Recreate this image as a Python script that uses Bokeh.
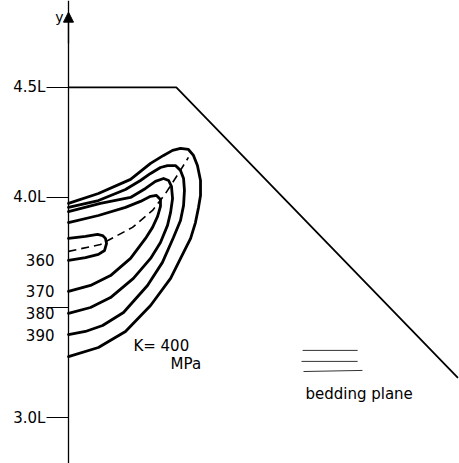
from bokeh.plotting import figure
from bokeh.models import (LinearAxis, FixedTicker, Range1d, ColumnDataSource,
                          LabelSet, Label, Arrow, NormalHead)
from bokeh.embed import file_html
from bokeh.resources import INLINE
from bokeh.core.properties import value

FONT = "DejaVu Sans"

# ---- data (lengths in units of L, stress levels in MPa) ----
y_ticks = [3.0, 3.5, 4.0, 4.5]
y_tick_labels = ["3.0L", "", "4.0L", "4.5L"]

# slope boundary (crest then face)
boundary_x = [0.0, 0.49, 1.77]
boundary_y = [4.5, 4.5, 3.18]

levels = ["360", "370", "380", "390"]
outer_level = "K= 400"
outer_unit = "MPa"

c360_x = [0.0, 0.077, 0.132, 0.155, 0.168, 0.173, 0.164, 0.136, 0.077, 0.0]
c360_y = [3.814, 3.823, 3.832, 3.827, 3.814, 3.791, 3.759, 3.741, 3.727, 3.714]

c370_x = [0.0, 0.136, 0.259, 0.327, 0.373, 0.400, 0.418, 0.418, 0.405, 0.382, 0.350,
          0.282, 0.191, 0.100, 0.0]
c370_y = [3.886, 3.918, 3.955, 3.982, 4.005, 4.009, 3.991, 3.959, 3.914, 3.864, 3.814,
          3.723, 3.645, 3.600, 3.573]

c380_x = [0.0, 0.145, 0.282, 0.350, 0.395, 0.432, 0.455, 0.468, 0.473, 0.464, 0.450,
          0.418, 0.373, 0.295, 0.191, 0.100, 0.0]
c380_y = [3.936, 3.973, 4.000, 4.041, 4.073, 4.086, 4.077, 4.050, 3.995, 3.932, 3.873,
          3.795, 3.723, 3.632, 3.545, 3.500, 3.473]

c390_x = [0.0, 0.136, 0.259, 0.327, 0.373, 0.418, 0.450, 0.486, 0.509, 0.523, 0.527,
          0.523, 0.509, 0.477, 0.427, 0.359, 0.250, 0.155, 0.077, 0.0]
c390_y = [3.955, 3.986, 4.036, 4.077, 4.109, 4.136, 4.145, 4.145, 4.123, 4.086, 4.032,
          3.964, 3.895, 3.818, 3.705, 3.600, 3.477, 3.418, 3.391, 3.377]

c400_x = [0.0, 0.136, 0.282, 0.373, 0.432, 0.473, 0.509, 0.545, 0.568, 0.586, 0.600,
          0.600, 0.591, 0.577, 0.555, 0.523, 0.464, 0.373, 0.259, 0.136, 0.0]
c400_y = [3.973, 4.018, 4.082, 4.155, 4.191, 4.214, 4.223, 4.218, 4.191, 4.145, 4.077,
          4.009, 3.955, 3.886, 3.814, 3.750, 3.632, 3.509, 3.391, 3.318, 3.277]

# ridge of maximum stress (dashed)
ridge_x = [0.0, 0.145, 0.291, 0.382, 0.441, 0.500, 0.545]
ridge_y = [3.755, 3.786, 3.864, 3.941, 4.018, 4.109, 4.182]

# bedding-plane symbol
bed_x0 = [1.064, 1.059, 1.068]
bed_x1 = [1.314, 1.314, 1.336]
bed_y0 = [3.305, 3.255, 3.209]
bed_y1 = [3.305, 3.255, 3.214]

# ---- figure ----
p = figure(width=459, height=463, output_backend="svg", toolbar_location=None,
           x_axis_type=None, y_axis_type=None,
           x_range=Range1d(-0.309, 1.777), y_range=Range1d(2.791, 4.895),
           min_border=0)
p.outline_line_color = None
p.background_fill_color = "white"
p.border_fill_color = "white"

yax = LinearAxis(ticker=FixedTicker(ticks=y_ticks), fixed_location=0.0)
yax.major_label_overrides = {t: l for t, l in zip(y_ticks, y_tick_labels)}
yax.major_tick_out = 22
yax.major_tick_in = 0
yax.minor_tick_out = 0
yax.minor_tick_in = 0
yax.major_label_standoff = 1
yax.axis_line_width = 1.3
yax.axis_line_color = "black"
yax.major_tick_line_color = "black"
yax.major_tick_line_width = 1.0
yax.major_label_text_font = FONT
yax.major_label_text_font_size = "15px"
yax.major_label_text_color = "black"
p.add_layout(yax, "left")

p.line(boundary_x, boundary_y, line_color="black", line_width=1.8)

for cx, cy in [(c360_x, c360_y), (c370_x, c370_y), (c380_x, c380_y),
               (c390_x, c390_y), (c400_x, c400_y)]:
    p.line(cx, cy, line_color="black", line_width=2.8, line_join="round", line_cap="round")

p.line(ridge_x, ridge_y, line_color="black", line_width=1.6, line_dash="8 5")

p.segment(x0=bed_x0, y0=bed_y0, x1=bed_x1, y1=bed_y1, line_color="#333333", line_width=1.0)

# contour level labels at the axis intercepts
lab_src = ColumnDataSource(dict(
    x=[0.0] * len(levels),
    y=[c360_y[-1], c370_y[-1], c380_y[-1], c390_y[-1]],
    t=levels))
p.add_layout(LabelSet(x="x", y="y", text="t", source=lab_src, x_offset=-14,
                      text_align="right", text_baseline="middle",
                      text_font=value(FONT), text_font_size="15px", text_color="black"))

p.add_layout(Label(x=0.295, y=3.327, text=outer_level, text_font=FONT,
                   text_font_size="15px", text_baseline="alphabetic", text_color="black"))
p.add_layout(Label(x=0.464, y=3.245, text=outer_unit, text_font=FONT,
                   text_font_size="15px", text_baseline="alphabetic", text_color="black"))
p.add_layout(Label(x=1.077, y=3.109, text="bedding plane", text_font=FONT,
                   text_font_size="15px", text_baseline="alphabetic", text_color="black"))

# axis arrow and name
p.add_layout(Arrow(end=NormalHead(size=10, fill_color="black", line_color="black"),
                   x_start=0.0, y_start=4.70, x_end=0.0, y_end=4.842,
                   line_color="black", line_width=1.3))
p.add_layout(Label(x=0.0, y=4.818, x_offset=-5, text="y", text_font=FONT,
                   text_font_size="14px", text_align="right",
                   text_baseline="alphabetic", text_color="black"))

open("out.html", "w").write(file_html(p, INLINE))
